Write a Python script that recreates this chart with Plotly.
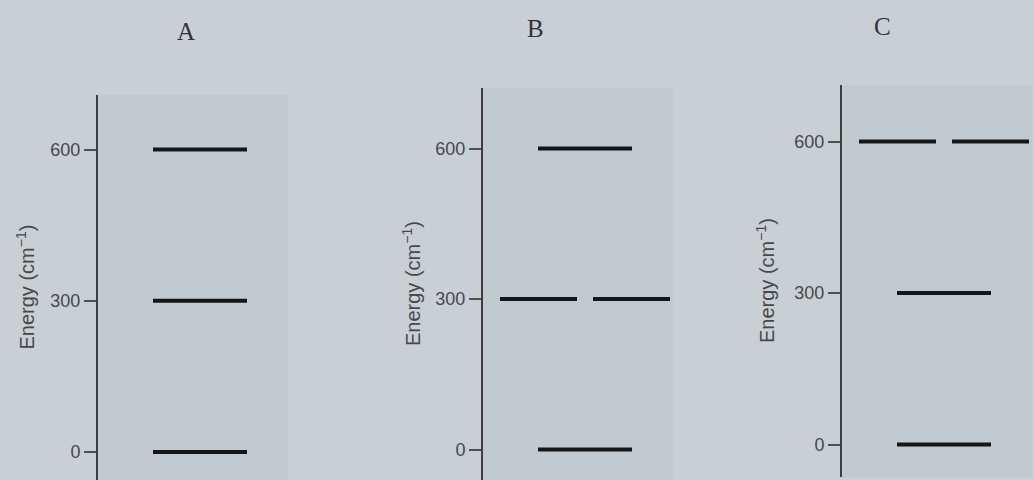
import plotly.graph_objects as go

# ---- data ----
panel_labels = ["A", "B", "C"]
energies_A = [0, 300, 600]
degeneracy_A = [1, 1, 1]
energies_B = [0, 300, 600]
degeneracy_B = [1, 2, 1]
energies_C = [0, 300, 600]
degeneracy_C = [1, 1, 2]
tick_values = [0, 300, 600]
tick_labels = ["0", "300", "600"]
axis_title = "Energy (cm<sup>−1</sup>)"

energies = [energies_A, energies_B, energies_C]
degeneracies = [degeneracy_A, degeneracy_B, degeneracy_C]

# ---- layout (pixels) ----
W, H = 1034, 480
axis_x = [98, 483, 842]
axis_top = [95, 88, 85]
axis_bottom = [480, 480, 477]
zero_px = [452, 449.5, 444.5]
six_px = [149.5, 148.5, 141.5]
label_pos = [(185.5, 32), (535, 28), (882, 26)]
title_offset = [73, 72, 77]
panel_w = 190
level_center = 102
single_half = 47
double_len = 77
double_gap = 16

fig = go.Figure()
for i in range(3):
    xa = "x" if i == 0 else f"x{i+1}"
    ya = "y" if i == 0 else f"y{i+1}"
    xs, ys = [], []
    for e, g in zip(energies[i], degeneracies[i]):
        if g == 1:
            segs = [(level_center - single_half, level_center + single_half)]
        else:
            segs = [(level_center - double_gap / 2 - double_len, level_center - double_gap / 2),
                    (level_center + double_gap / 2, level_center + double_gap / 2 + double_len)]
        for a, b in segs:
            xs += [a, b, None]
            ys += [e, e, None]
    fig.add_trace(go.Scatter(x=xs, y=ys, mode="lines", xaxis=xa, yaxis=ya,
                             line=dict(color="#161616", width=4),
                             showlegend=False, hoverinfo="skip"))

    scale = (zero_px[i] - six_px[i]) / 600.0
    lo = -(axis_bottom[i] - zero_px[i]) / scale
    hi = 600 + (six_px[i] - axis_top[i]) / scale
    x0 = axis_x[i] / W
    x1 = min(axis_x[i] + panel_w, W) / W
    xkey = "xaxis" if i == 0 else f"xaxis{i+1}"
    ykey = "yaxis" if i == 0 else f"yaxis{i+1}"
    fig.update_layout(**{
        xkey: dict(domain=[x0, x1], range=[0, (x1 - x0) * W], visible=False,
                   anchor=ya, fixedrange=True),
        ykey: dict(domain=[(H - axis_bottom[i]) / H, (H - axis_top[i]) / H],
                   range=[lo, hi], anchor=xa,
                   showline=True, linecolor="#3d3d3d", linewidth=2,
                   ticks="outside", ticklen=12, tickwidth=1.5, tickcolor="#505050",
                   tickvals=tick_values, ticktext=tick_labels,
                   tickfont=dict(family="Liberation Sans, Arial", size=18, color="#484848"),
                   showgrid=False, zeroline=False, fixedrange=True),
    })
    # axis title
    fig.add_annotation(x=(axis_x[i] - title_offset[i]) / W,
                       y=(H - (axis_top[i] + axis_bottom[i]) / 2) / H,
                       xref="paper", yref="paper", text=axis_title, textangle=-90,
                       xanchor="center", yanchor="middle",
                       showarrow=False,
                       font=dict(family="Liberation Sans, Arial", size=20, color="#484848"))
    # panel label
    fig.add_annotation(x=label_pos[i][0] / W, y=(H - label_pos[i][1]) / H,
                       xref="paper", yref="paper", text=panel_labels[i],
                       xanchor="center", yanchor="middle",
                       showarrow=False,
                       font=dict(family="Liberation Serif, Times New Roman", size=25, color="#333333"))

fig.update_layout(width=W, height=H, margin=dict(l=0, r=0, t=0, b=0),
                  paper_bgcolor="#c8d0d6", plot_bgcolor="#c1cad1")
fig.write_html("out.html", config={"displayModeBar": False},
               post_script="document.body.style.margin='0px';")
